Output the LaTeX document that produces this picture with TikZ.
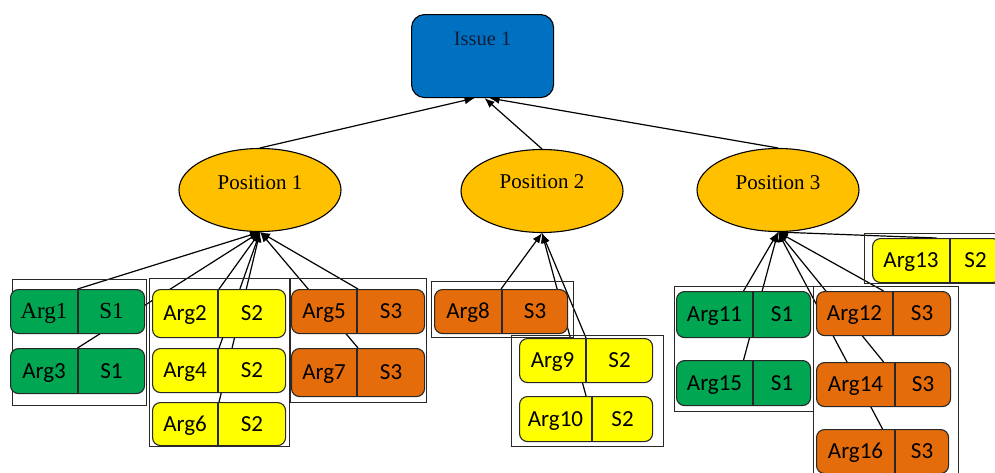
\documentclass[tikz,border=0pt]{standalone}
\usepackage{fontspec}
\setmainfont{Carlito}
\newfontfamily\serfont{Liberation Serif}
\usetikzlibrary{arrows.meta,calc,backgrounds,shapes.geometric}
\definecolor{issueblue}{RGB}{0,112,192}
\definecolor{posgold}{RGB}{255,192,0}
\definecolor{arggreen}{RGB}{0,166,81}
\definecolor{argyellow}{RGB}{255,255,0}
\definecolor{argorange}{RGB}{228,108,10}
\definecolor{outline}{RGB}{40,40,40}
\tikzset{
  argbox/.style={draw=outline,line width=1.1pt,rounded corners=8pt,inner sep=0pt},
  divider/.style={draw=outline,line width=1.1pt},
  argtxt/.style={inner sep=0pt,font=\fontsize{23}{26}\selectfont,text=black,text height=14.5pt,text depth=0pt},
  grp/.style={draw=outline,line width=1.1pt,inner sep=0pt},
  posn/.style={ellipse,draw=black,line width=1.1pt,fill=posgold,minimum width=162pt,minimum height=83pt,inner sep=0pt},
  postxt/.style={font=\serfont\fontsize{21}{24}\selectfont,text=black,inner sep=0pt,text height=14pt,text depth=0pt},
  edge/.style={draw=black,line width=1.2pt,-{Latex[length=10pt,width=8pt]}},
}
\newcommand\argnode[9]{%
  \node[argbox,fill=#7,minimum width=#4pt,minimum height=#5pt,anchor=north west] (#1) at (#2,#3) {};
  \coordinate (#1d) at ([xshift=#6pt]#1.north west);
  \draw[divider] (#1d) -- (#1d |- #1.south);
  \node[argtxt] (#1a) at ($(#1.west)!0.5!(#1d |- #1.west)$) {#8};
  \node[argtxt] (#1s) at ($(#1d |- #1.east)!0.5!(#1.east)$) {#9};
}
\begin{document}
\begin{tikzpicture}[x=1pt,y=-1pt]
\useasboundingbox (0,0) rectangle (995,472);
\clip (0,0) rectangle (995,472);
% issue
\node[draw=black,line width=1.1pt,fill=issueblue,rounded corners=13pt,minimum width=142pt,minimum height=83pt,anchor=north west,inner sep=0pt] (issue) at (411,14) {};
\node[font=\serfont\fontsize{20.5}{24}\selectfont,text={rgb,255:red,20;green,30;blue,60},inner sep=0pt,text height=13.5pt,text depth=0pt] (issuet) at ([yshift=-25pt]issue.north) {Issue 1};
% positions
\node[posn] (p1) at (260,190) {};
\node[postxt] (p1t) at ([yshift=8pt]p1.center) {Position 1};
\node[posn] (p2) at (542,191) {};
\node[postxt] (p2t) at ([yshift=10pt]p2.center) {Position 2};
\node[posn] (p3) at (778,190) {};
\node[postxt] (p3t) at ([yshift=8pt]p3.center) {Position 3};
% group boxes
\node[grp,minimum width=134pt,minimum height=126pt,anchor=north west] (g1) at (12,279) {};
\node[grp,minimum width=140pt,minimum height=168pt,anchor=north west] (g2) at (149,278) {};
\node[grp,minimum width=136pt,minimum height=124pt,anchor=north west] (g3) at (290,278) {};
\node[grp,minimum width=142pt,minimum height=56pt,anchor=north west] (g4) at (431,281) {};
\node[grp,minimum width=152pt,minimum height=111pt,anchor=north west] (g5) at (511,335) {};
\node[grp,minimum width=141pt,minimum height=50pt,anchor=north west] (g6) at (864,233) {};
\node[grp,minimum width=139pt,minimum height=125pt,anchor=north west] (g7) at (674,286) {};
\node[grp,minimum width=145pt,minimum height=194pt,anchor=north west] (g8) at (813,286) {};
% arguments
\argnode{a1}{10}{289}{134}{44}{68}{arggreen}{\serfont Arg1}{\serfont S1}
\argnode{a3}{10}{348}{134}{45}{68}{arggreen}{Arg3}{S1}
\argnode{a2}{152}{289}{133}{48}{66}{argyellow}{Arg2}{S2}
\argnode{a4}{152}{348}{133}{44}{66}{argyellow}{Arg4}{S2}
\argnode{a6}{152}{402}{133}{43}{66}{argyellow}{Arg6}{S2}
\argnode{a5}{291}{289}{133}{44}{66}{argorange}{Arg5}{S3}
\argnode{a7}{291}{348}{133}{48}{66}{argorange}{Arg7}{S3}
\argnode{a8}{434}{289}{133}{44}{68}{argorange}{Arg8}{S3}
\argnode{a9}{519}{338}{133}{44}{67}{argyellow}{Arg9}{S2}
\argnode{a10}{519}{396}{133}{45}{73}{argyellow}{Arg10}{S2}
\argnode{a11}{676}{291}{134}{46}{77}{arggreen}{Arg11}{S1}
\argnode{a15}{676}{360}{134}{45}{77}{arggreen}{Arg15}{S1}
\argnode{a12}{816}{291}{134}{44}{77}{argorange}{Arg12}{S3}
\argnode{a14}{816}{362}{134}{44}{79}{argorange}{Arg14}{S3}
\argnode{a16}{816}{429}{132}{44}{79}{argorange}{Arg16}{S3}
\argnode{a13}{872}{238}{128}{44}{78}{argyellow}{Arg13}{S2}
% edges behind
\begin{pgfonlayer}{background}
\fill[white] (0,0) rectangle (995,472);
\draw[edge] (p1.north) -- ([xshift=-8pt]issue.south);
\draw[edge] (p2.north) -- ([xshift=2pt]issue.south);
\draw[edge] (p3.north) -- ([xshift=7pt]issue.south);
\foreach \a in {a1,a3,a2,a4,a6,a5,a7} \draw[edge] (\a.north) -- (p1.south);
\foreach \a in {a8,a9,a10} \draw[edge] (\a.north) -- (p2.south);
\foreach \a in {a11,a15,a12,a14,a16,a13} \draw[edge] (\a.north) -- (p3.south);
\end{pgfonlayer}
\end{tikzpicture}
\end{document}
